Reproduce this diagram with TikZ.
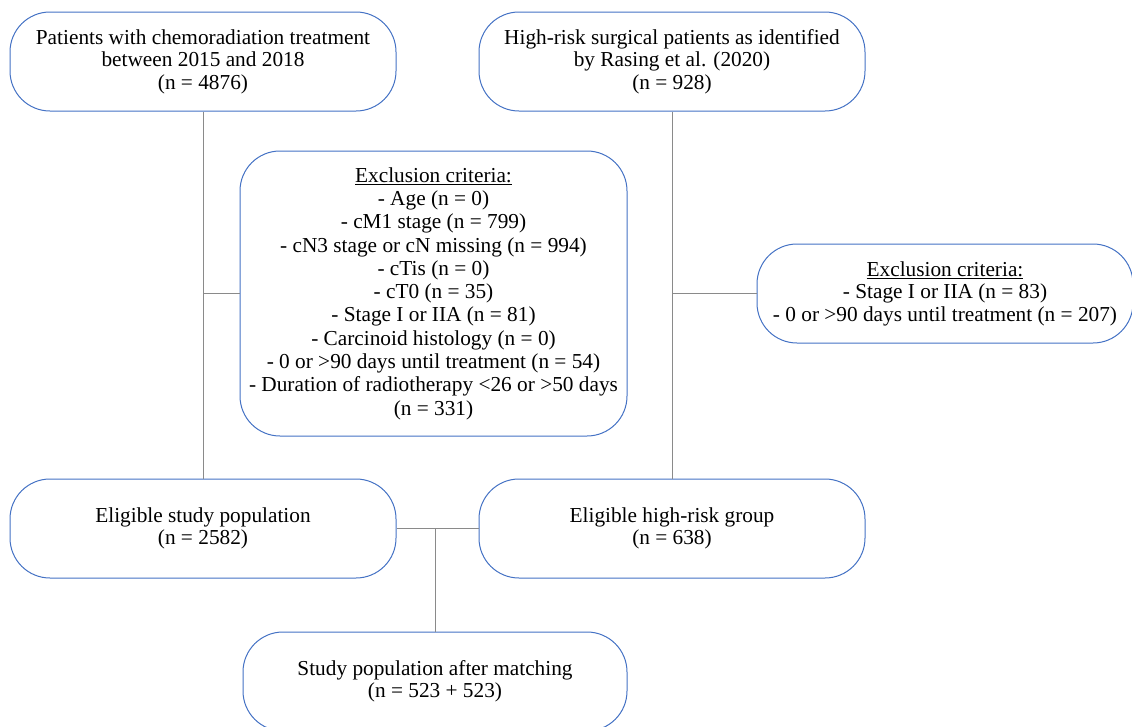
\documentclass[tikz,border=0pt]{standalone}
\usepackage{fontspec}
\setmainfont{Liberation Serif}
\usetikzlibrary{positioning}

\definecolor{boxblue}{HTML}{4472C4}
\definecolor{linegray}{HTML}{8A8A8A}

\begin{document}
\begin{tikzpicture}[x=1pt,y=1pt,node distance=82pt,
    box/.style={draw=boxblue,line width=1pt,rounded corners=40pt,align=center,
                minimum width=386pt,minimum height=99pt,inner sep=0pt,
                font=\fontsize{21.3}{22.5}\selectfont},
    conn/.style={draw=linegray,line width=1pt}]

    \useasboundingbox (0,0) rectangle (1132,-726);

    \node[box] (chemo) at (203,-61.5) {Patients with chemoradiation treatment\\between 2015 and 2018\\(n = 4876)};

    \node[box] (highrisk) [right=of chemo] {High-risk surgical patients as identified\\by Rasing et al. (2020)\\(n = 928)};

    \node[box,minimum width=387pt,minimum height=285pt,
          font=\fontsize{21.3}{23.3}\selectfont] (excl) at (433.5,-293.5)
        {\underline{Exclusion criteria:}\\
         - Age (n = 0)\\
         - cM1 stage (n = 799)\\
         - cN3 stage or cN missing (n = 994)\\
         - cTis (n = 0)\\
         - cT0 (n = 35)\\
         - Stage I or IIA (n = 81)\\
         - Carcinoid histology (n = 0)\\
         - 0 or >90 days until treatment (n = 54)\\
         - Duration of radiotherapy <26 or >50 days\\
         (n = 331)};

    \node[box,minimum width=376pt] (exclhr) at (945,-293.5)
        {\underline{Exclusion criteria:}\\
         - Stage I or IIA (n = 83)\\
         - 0 or >90 days until treatment (n = 207)};

    \node[box] (eligible) [below=367pt of chemo] {Eligible study population\\(n = 2582)};

    \node[box] (eligiblehr) [below=367pt of highrisk] {Eligible high-risk group\\(n = 638)};

    \node[box,minimum width=384pt] (matched) at (435,-681.5) {Study population after matching\\(n = 523 + 523)};

    \path[conn] (chemo) -- (eligible)
                (excl.west) -- (excl.west -| chemo)
                (highrisk) -- (eligiblehr)
                (exclhr.west) -- (exclhr.west -| highrisk)
                (eligible) -- (eligiblehr)
                (matched.north) -- (matched.north |- eligible.east);
\end{tikzpicture}
\end{document}
